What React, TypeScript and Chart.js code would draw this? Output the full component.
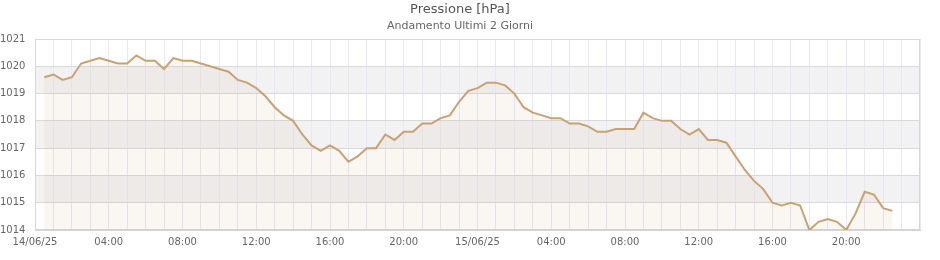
import React, { useEffect, useRef } from 'react';
import { Chart, registerables } from 'chart.js';

Chart.register(...registerables);

const chartTitle = 'Pressione [hPa]';
const chartSubtitle = 'Andamento Ultimi 2 Giorni';

// Samples every 30 minutes starting 14/06/25 00:30 (hours from 14/06/25 00:00)
const startHour = 0.5;
const stepHours = 0.5;
const pressure = [
  1019.6, 1019.7, 1019.5, 1019.6, 1020.1, 1020.2, 1020.3, 1020.2,
  1020.1, 1020.1, 1020.4, 1020.2, 1020.2, 1019.9, 1020.3, 1020.2,
  1020.2, 1020.1, 1020.0, 1019.9, 1019.8, 1019.5, 1019.4, 1019.2,
  1018.9, 1018.5, 1018.2, 1018.0, 1017.5, 1017.1, 1016.9, 1017.1,
  1016.9, 1016.5, 1016.7, 1017.0, 1017.0, 1017.5, 1017.3, 1017.6,
  1017.6, 1017.9, 1017.9, 1018.1, 1018.2, 1018.7, 1019.1, 1019.2,
  1019.4, 1019.4, 1019.3, 1019.0, 1018.5, 1018.3, 1018.2, 1018.1,
  1018.1, 1017.9, 1017.9, 1017.8, 1017.6, 1017.6, 1017.7, 1017.7,
  1017.7, 1018.3, 1018.1, 1018.0, 1018.0, 1017.7, 1017.5, 1017.7,
  1017.3, 1017.3, 1017.2, 1016.7, 1016.2, 1015.8, 1015.5, 1015.0,
  1014.9, 1015.0, 1014.9, 1014.0, 1014.3, 1014.4, 1014.3, 1014.0,
  1014.6, 1015.4, 1015.3, 1014.8, 1014.7,
];

// x axis: 48 hours, a grid line every hour, a label every 4 hours
const xMin = 0;
const xMax = 48;
const xLabelEvery = 4;
const xTickLabels = [
  '14/06/25', '04:00', '08:00', '12:00', '16:00', '20:00',
  '15/06/25', '04:00', '08:00', '12:00', '16:00', '20:00',
];

const yMin = 1014;
const yMax = 1021;
const yStep = 1;
// shaded horizontal bands [from, to]
const yBands = [
  [1015, 1016],
  [1017, 1018],
  [1019, 1020],
];

const FONT = 'DejaVu Sans';

const bandsPlugin = {
  id: 'plotBands',
  beforeDraw(chart: any) {
    const { ctx, chartArea, scales } = chart;
    const y = scales.y;
    ctx.save();
    ctx.fillStyle = '#f2f2f3';
    for (const [a, b] of yBands) {
      const top = y.getPixelForValue(b);
      const bot = y.getPixelForValue(a);
      ctx.fillRect(chartArea.left, top, chartArea.right - chartArea.left, bot - top);
    }
    ctx.restore();
  },
  beforeDatasetsDraw(chart: any) {
    const { ctx, chartArea } = chart;
    ctx.save();
    ctx.strokeStyle = '#d6d6d6';
    ctx.lineWidth = 1;
    ctx.strokeRect(
      Math.round(chartArea.left) + 0.5,
      Math.round(chartArea.top) + 0.5,
      Math.round(chartArea.right - chartArea.left) - 1,
      Math.round(chartArea.bottom - chartArea.top) - 1,
    );
    ctx.restore();
  },
};

export default function App() {
  const canvasRef = useRef<HTMLCanvasElement | null>(null);

  useEffect(() => {
    if (!canvasRef.current) return;
    const points = pressure.map((v, i) => ({ x: startHour + i * stepHours, y: v }));
    const chart = new Chart(canvasRef.current, {
      type: 'line',
      data: {
        datasets: [
          {
            label: chartTitle,
            data: points,
            borderColor: '#c9a273',
            borderWidth: 2,
            backgroundColor: 'rgba(200,160,112,0.09)',
            fill: 'start',
            pointRadius: 0,
            tension: 0,
          },
        ],
      },
      options: {
        animation: false,
        responsive: true,
        maintainAspectRatio: false,
        layout: { padding: { left: 0, right: 20, top: 0, bottom: 0 } },
        plugins: {
          legend: { display: false },
          tooltip: { enabled: false },
          title: {
            display: true,
            text: chartTitle,
            color: '#555555',
            font: { family: FONT, size: 13, weight: 'normal' },
            padding: { top: 2, bottom: 2 },
          },
          subtitle: {
            display: true,
            text: chartSubtitle,
            color: '#666666',
            font: { family: FONT, size: 11, weight: 'normal' },
            padding: { top: 0, bottom: 6.2 },
          },
        },
        scales: {
          x: {
            type: 'linear',
            min: xMin,
            max: xMax,
            afterFit: (s: any) => {
              s.height = 30;
            },
            grid: { color: '#e8e7f6', drawTicks: false, lineWidth: 1 },
            border: { color: '#d6d6d6' },
            ticks: {
              stepSize: 1,
              autoSkip: false,
              maxRotation: 0,
              padding: 6,
              color: '#666666',
              font: { family: FONT, size: 10 },
              callback: (value: any) => {
                const h = Math.round(Number(value));
                if (h % xLabelEvery !== 0) return '';
                return xTickLabels[h / xLabelEvery] ?? '';
              },
            },
          },
          y: {
            min: yMin,
            max: yMax,
            afterFit: (s: any) => {
              s.width = 35;
            },
            grid: { color: '#d9d9d9', drawTicks: false, lineWidth: 1 },
            border: { color: '#d6d6d6' },
            ticks: {
              stepSize: yStep,
              crossAlign: 'far',
              padding: 4,
              color: '#666666',
              font: { family: FONT, size: 10 },
              callback: (value: any) => String(Math.round(Number(value))),
            },
          },
        },
      },
      plugins: [bandsPlugin],
    });
    return () => chart.destroy();
  }, []);

  return (
    <div style={{ position: 'absolute', left: 0, top: 0, width: 940, height: 260 }}>
      <canvas ref={canvasRef} />
    </div>
  );
}
